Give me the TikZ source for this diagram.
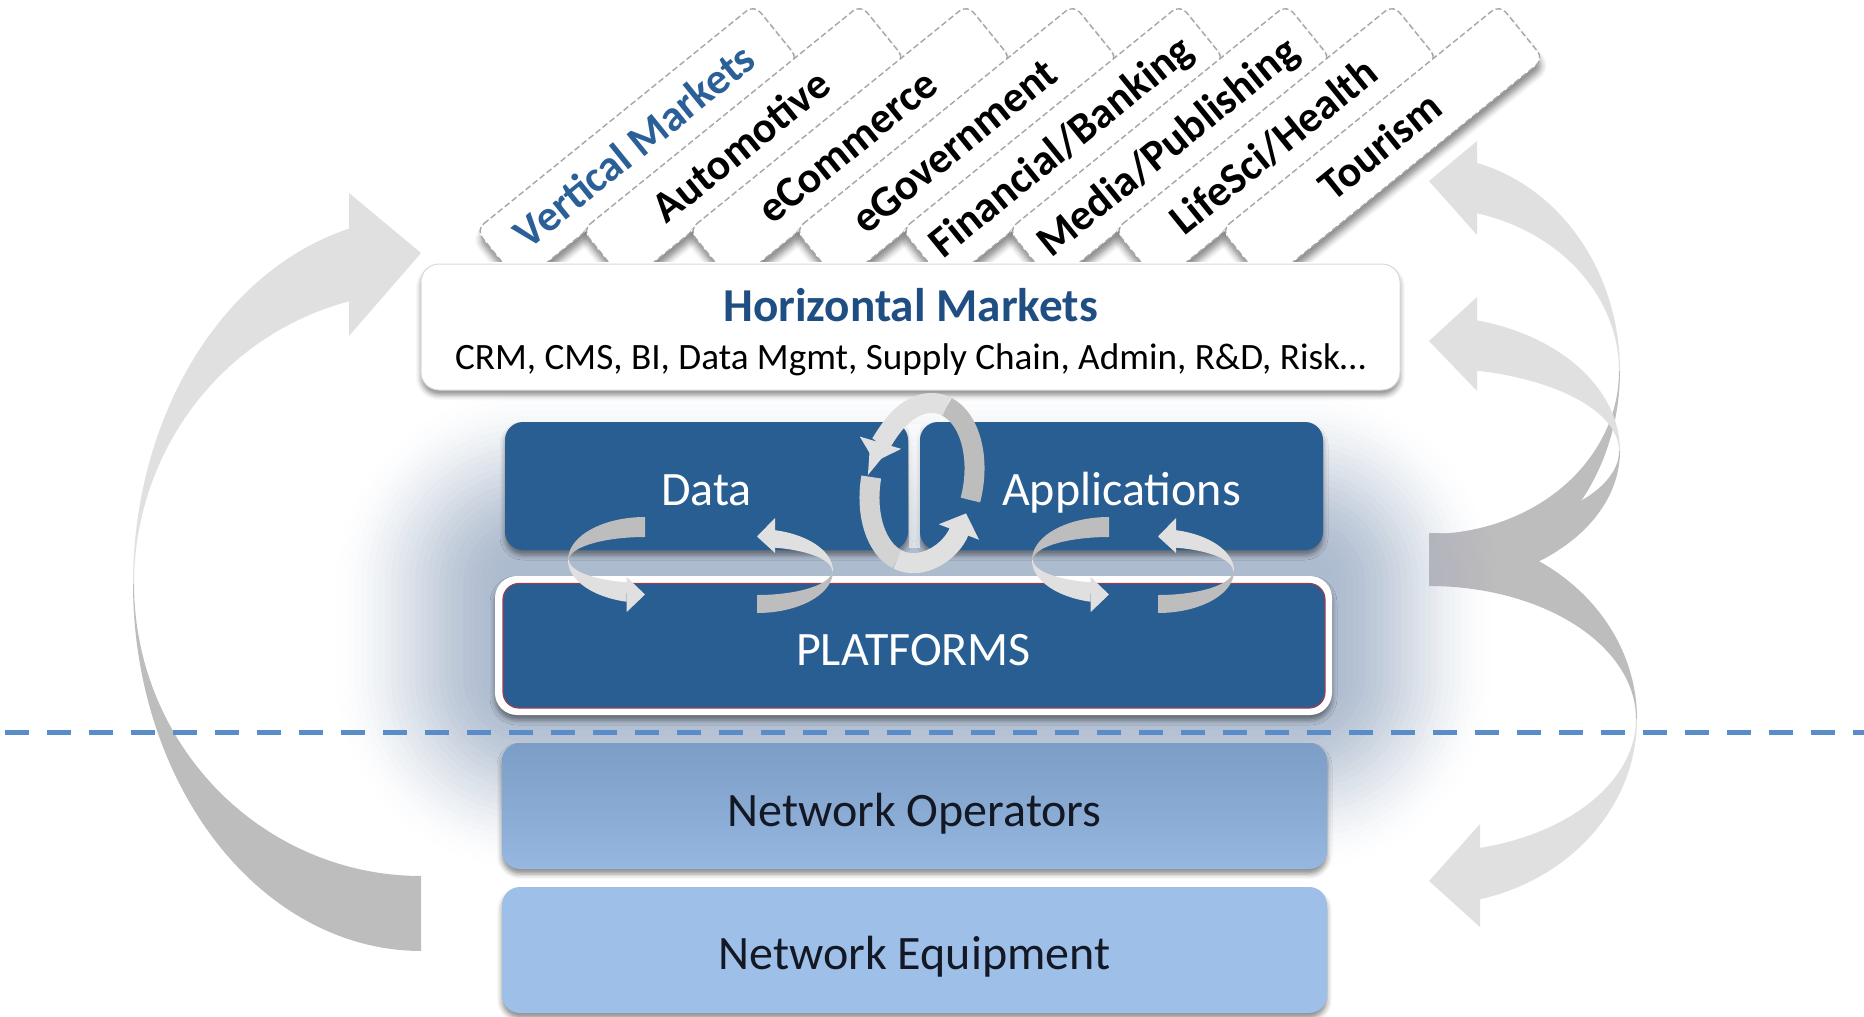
\documentclass[tikz,border=0pt]{standalone}
\usepackage{fontspec}
\setmainfont{Carlito}
\usetikzlibrary{arrows.meta,shadows.blur}

\definecolor{boxblue}{HTML}{285E92}
\definecolor{platTop}{HTML}{2A6198}
\definecolor{platBot}{HTML}{183E68}
\definecolor{platEdge}{HTML}{9C3D52}
\definecolor{opTop}{HTML}{7B9DC6}
\definecolor{opBot}{HTML}{96B7DF}
\definecolor{equipBlue}{HTML}{9EC0E8}
\definecolor{dashBlue}{HTML}{5A8CC8}
\definecolor{titleBlue}{HTML}{1F4E82}
\definecolor{vmBlue}{HTML}{2B5F98}
\definecolor{arrLight}{HTML}{E0E0E0}
\definecolor{arrDark}{HTML}{BDBDBD}
\definecolor{arrMid}{HTML}{D3D3D3}
\definecolor{glowc}{HTML}{A6B5CA}
\definecolor{tabEdge}{HTML}{A6A6A6}
\definecolor{netText}{HTML}{141824}

% platform fill: flat blue with a darker lower rim
\pgfdeclareverticalshading{platshade}{100bp}{color(0bp)=(platBot); color(6bp)=(platBot!55!boxblue);
  color(15bp)=(boxblue); color(92bp)=(boxblue); color(100bp)=(platTop)}

% ribbon between two concentric ellipses, from angle #8 to #9
% #1 colour, #2/#3 centre, #4/#5 outer radii, #6/#7 inner radii
\newcommand{\ribbonband}[9]{%
  \fill[#1] plot[domain=#8:#9, samples=60, variable=\t] ({#2+#4*cos(\t)},{#3+#5*sin(\t)})
    -- plot[domain=#9:#8, samples=60, variable=\t] ({#2+#6*cos(\t)},{#3+#7*sin(\t)}) -- cycle;}

\tikzset{
  every node/.style={inner sep=0pt, outer sep=0pt},
  softshadow/.style={blur shadow={shadow xshift=0pt, shadow yshift=-2.5pt, shadow blur radius=2.5pt, shadow opacity=45}},
  tabshape/.style={fill=white, draw=tabEdge, line width=0.7pt, dash pattern=on 3pt off 1.5pt,
    rounded corners=5pt, blur shadow={shadow xshift=0.5pt, shadow yshift=-4pt, shadow blur radius=3pt, shadow opacity=45}},
  tablabel/.style={anchor=base, rotate=39, font=\bfseries\fontsize{21.8}{24}\selectfont},
  boxlabel/.style={anchor=base, font=\fontsize{24}{28}\selectfont},
  hbox/.style={rectangle, rounded corners=9pt, fill=white, draw=black!15, line width=0.5pt,
    minimum width=489.5pt, minimum height=63pt, softshadow},
  bluebox/.style={rectangle, rounded corners=9pt, fill=boxblue, minimum width=201.5pt, minimum height=64pt, softshadow},
  platouter/.style={rectangle, rounded corners=11pt, fill=white, minimum width=418.5pt, minimum height=69.5pt, softshadow},
  platinner/.style={rectangle, rounded corners=8pt, shading=platshade, draw=platEdge,
    line width=0.6pt, minimum width=411pt, minimum height=62.25pt},
  netbox/.style={rectangle, rounded corners=9pt, minimum width=412.5pt, minimum height=63pt, softshadow},
  headtip/.style={-{Triangle[length=10pt,width=21pt]}},
}

\begin{document}
\begin{tikzpicture}[x=0.5pt, y=-0.5pt]
\useasboundingbox (0,0) rectangle (1864,1017);

% ---------- large curved arrows ----------
% left: from the network layers up to the vertical markets
\ribbonband{arrLight}{421}{584}{288}{367}{287}{292}{180}{255.5}
\ribbonband{arrDark}{421}{584}{288}{367}{287}{292}{90}{180}
\fill[arrLight] (349,193) -- (421,253) -- (349,336) -- cycle;

% right: three arrows sharing one tail
\ribbonband{arrLight}{1429}{371}{191}{215}{190}{163}{-75.5}{0}
\ribbonband{arrDark}{1429}{371}{191}{215}{190}{163}{0}{90}
\fill[arrLight] (1477,141) -- (1429,181) -- (1477,235) -- cycle;
\ribbonband{arrLight}{1429}{451}{191}{135}{190}{83}{-75.5}{0}
\ribbonband{arrDark}{1429}{451}{191}{135}{190}{83}{0}{90}
\fill[arrLight] (1477,297) -- (1429,341) -- (1477,391) -- cycle;
\ribbonband{arrDark}{1429}{719}{208}{186}{207}{133}{-90}{0}
\ribbonband{arrLight}{1429}{719}{208}{186}{207}{133}{0}{75.8}
\fill[arrLight] (1480,824) -- (1429,881) -- (1480,927) -- cycle;

% ---------- soft glow behind the platform stack ----------
\foreach \k in {30,29,...,0}{
  \pgfmathsetmacro{\dd}{6*\k}
  \pgfmathsetmacro{\xa}{\k/30}
  \pgfmathsetmacro{\xb}{min(1,(\k+1)/30)}
  \pgfmathsetmacro{\oa}{0.92*(1-(3*\xa*\xa-2*\xa*\xa*\xa))}
  \pgfmathsetmacro{\ob}{0.92*(1-(3*\xb*\xb-2*\xb*\xb*\xb))}
  \pgfmathsetmacro{\al}{max(0,1-(1-\oa)/(1-\ob))}
  \pgfmathsetmacro{\rr}{0.5*(24+\dd)}
  \fill[glowc, fill opacity=\al, rounded corners=\rr pt]
    ({505-\dd},{560-\dd}) rectangle ({1323+\dd},{700+\dd});
}

% ---------- dashed separator ----------
\coordinate (sepL) at (4.5,732);
\coordinate (sepR) at (1864,732);
\draw[dashBlue, line width=2.5pt, dash pattern=on 12pt off 9pt] (sepL) -- (sepR);

% ---------- vertical market tabs ----------
\begin{scope}
  \clip (0,0) rectangle (1864,261);
  \foreach \lab/\col [count=\i from 0] in {Vertical Markets/vmBlue, Automotive/black, eCommerce/black,
      eGovernment/black, {Financial/Banking}/black, {Media/Publishing}/black, {LifeSci/Health}/black, Tourism/black}{
    \pgfmathsetmacro{\ox}{106.5*\i}
    \draw[tabshape] ({476+\ox},230) -- ({754.2+\ox},4.7) -- ({798.3+\ox},59.1) -- ({520+\ox},284.4) -- cycle;
    \node[tablabel, text=\col] (tab\i) at ({643.6+\ox},157.3) {\lab};
  }
\end{scope}

% ---------- horizontal markets ----------
\node[hbox] (hmk) at (910.5,327) {};
\node[anchor=base, font=\bfseries\fontsize{23.6}{27}\selectfont, text=titleBlue] (hmkTitle) at (910.5,321.7) {Horizontal Markets};
\node[anchor=base, font=\fontsize{18.6}{22}\selectfont] (hmkList) at (910.5,369.5)
  {CRM, CMS, BI, Data Mgmt, Supply Chain, Admin, R\&D, Risk…};

% ---------- data / applications / platforms ----------
\node[bluebox] (data) at (706.5,486) {};
\node[bluebox] (apps) at (1121.5,486) {};
\fill[white, fill opacity=0.55] (908.5,424) rectangle (919.5,548);
\node[platouter] (platO) at (913.5,645.5) {};
\node[platinner] (plat) at (914,645.75) {};
\node[boxlabel, text=white] (dataT) at (706.5,505) {Data};
\node[boxlabel, text=white] (appsT) at (1121.5,505) {Applications};
\node[boxlabel, text=white] (platT) at (913.5,665) {PLATFORMS};

% ---------- network layers ----------
\node[netbox, top color=opTop, bottom color=opBot] (netop) at (914.5,806) {};
\node[netbox, fill=equipBlue] (neteq) at (914.5,950) {};
\node[boxlabel, text=netText] (netopT) at (914.5,826) {Network Operators};
\node[boxlabel, text=netText] (neteqT) at (914.5,969) {Network Equipment};

% ---------- small exchange arrows ----------
% data <-> platforms
\ribbonband{arrDark}{645}{560}{77}{43}{76}{23}{180}{270}
\ribbonband{arrLight}{645}{560}{77}{43}{76}{23}{103.8}{180}
\fill[arrLight] (626.7,577) -- (645,594.5) -- (626.7,612) -- cycle;
\ribbonband{arrDark}{757}{571}{76}{42}{75}{24}{0}{90}
\ribbonband{arrLight}{757}{571}{76}{42}{75}{24}{-76.3}{0}
\fill[arrLight] (775,518) -- (757,536.5) -- (775,553) -- cycle;
% applications <-> platforms
\ribbonband{arrDark}{1109}{560}{77}{43}{76}{23}{180}{270}
\ribbonband{arrLight}{1109}{560}{77}{43}{76}{23}{103.8}{180}
\fill[arrLight] (1090.7,577) -- (1109,594.5) -- (1090.7,612) -- cycle;
\ribbonband{arrDark}{1158}{571}{76}{42}{75}{24}{0}{90}
\ribbonband{arrLight}{1158}{571}{76}{42}{75}{24}{-76.3}{0}
\fill[arrLight] (1176,518) -- (1158,536.5) -- (1176,553) -- cycle;

% data <-> applications loop
\begin{scope}[shift={(922,483)}, rotate=-11.5, line width=10pt]
  \draw[arrDark] ({51*cos(5)},{81*sin(5)}) arc[start angle=5, end angle=-80, x radius=51, y radius=81];
  \draw[arrLight, headtip] ({51*cos(-80)},{81*sin(-80)}) arc[start angle=-80, end angle=-172, x radius=51, y radius=81];
  \draw[arrMid] ({51*cos(177)},{81*sin(177)}) arc[start angle=177, end angle=100, x radius=51, y radius=81];
  \draw[arrLight, headtip] ({51*cos(100)},{81*sin(100)}) arc[start angle=100, end angle=15, x radius=51, y radius=81];
\end{scope}
\end{tikzpicture}
\end{document}
